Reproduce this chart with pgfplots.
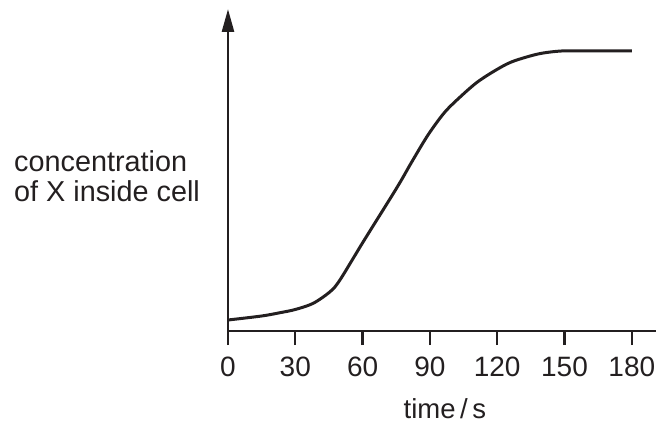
\documentclass[border=0pt]{standalone}
\usepackage{fontspec}
\setmainfont{Liberation Sans}
\usepackage{pgfplots}
\pgfplotsset{compat=1.18}
\usetikzlibrary{arrows.meta}
\definecolor{ink}{HTML}{231F20}
\begin{document}
\begin{tikzpicture}
\begin{axis}[
  name=ax,
  x=2.2433pt, y=1pt,
  xmin=0, xmax=190.8, ymin=0, ymax=322,
  axis x line*=bottom, axis y line*=left,
  axis line style={ink, line width=2.6pt},
  y axis line style={-{Triangle[length=23pt,width=12pt]}},
  xtick={0,30,...,180}, ytick=\empty,
  tick align=outside, major tick length=14pt,
  tick style={ink, line width=2.4pt},
  /pgf/number format/assume math mode=true,
  xticklabel style={font=\fontsize{28}{30}\selectfont, text=ink, anchor=base, yshift=-31pt},
  xlabel={time\,/\,s},
  ylabel={concentration\\of X inside cell},
  every axis x label/.style={at={(axis cs:96.7,0)}, anchor=base, yshift=-87pt,
    font=\fontsize{27.5}{30}\selectfont, text=ink},
  every axis y label/.style={at={(axis cs:0,129.3)}, anchor=base west, xshift=-214pt,
    inner sep=0pt, align=left, font=\fontsize{28.8}{30}\selectfont, text=ink},
  clip=false,
]
% concentration (arbitrary units) against time / s
\addplot[ink, line width=3pt, smooth, tension=0.5] coordinates {
  (0,11) (15,15) (23.2,18.3) (30,21.5) (38,27.7) (45.5,39.3) (49.9,51)
  (60.3,89.3) (75.2,143) (81.9,169) (89.3,196.5) (96.7,219) (104.2,235.5)
  (110.9,248.5) (118,259) (126.3,269) (138.2,277) (148.6,280) (160,280) (180,280)
};
\end{axis}
\pgfresetboundingbox
\path[use as bounding box] (ax.south west) ++(-228pt,-92pt) rectangle ++(656pt,423pt);
\end{tikzpicture}
\end{document}
